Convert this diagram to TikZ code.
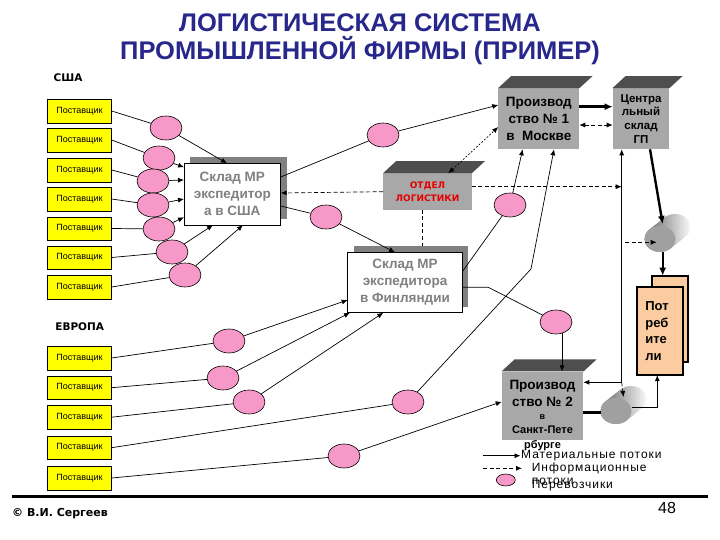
\documentclass[tikz,border=0pt]{standalone}
\usepackage{fontspec}
\setmainfont{Liberation Sans}
\newfontfamily\dvfont{DejaVu Sans}
\usetikzlibrary{arrows.meta,shapes.geometric,calc,shadows}
\definecolor{titleblue}{RGB}{40,40,140}
\definecolor{supyellow}{RGB}{255,255,0}
\definecolor{carpink}{RGB}{246,152,200}
\definecolor{boxgray}{RGB}{168,168,168}
\definecolor{topgray}{RGB}{78,78,78}
\definecolor{shadowgray}{RGB}{128,128,128}
\definecolor{textgray}{RGB}{128,128,128}
\definecolor{logred}{RGB}{230,0,0}
\definecolor{constan}{RGB}{250,204,160}
\definecolor{cylfront}{RGB}{160,160,160}
\definecolor{cyldark}{RGB}{95,95,95}
\begin{document}
\begin{tikzpicture}[x=1pt,y=-1pt,
  sup/.style={draw=black, fill=supyellow, minimum width=64pt, minimum height=23.5pt, inner sep=0pt, font=\fontsize{9}{10}\selectfont},
  car/.style={ellipse, draw=black, line width=0.6pt, fill=carpink, minimum width=32pt, minimum height=24pt, inner sep=0pt},
  ln/.style={line width=0.7pt},
  arr/.style={line width=0.7pt, -{Latex[length=6pt,width=5pt]}},
  arrboth/.style={line width=0.7pt, {Latex[length=6pt,width=5pt]}-{Latex[length=6pt,width=5pt]}},
  thk/.style={line width=2.4pt, -{Latex[length=8pt,width=7pt]}},
  dsh/.style={dash pattern=on 4pt off 2.5pt},
  dotl/.style={dash pattern=on 1.8pt off 1.8pt},
  wbox/.style={draw=black, line width=0.7pt, fill=white, text=textgray, inner sep=0pt, align=center,
    font=\fontsize{13.5}{17}\selectfont\bfseries,
    drop shadow={shadow xshift=6pt, shadow yshift=6pt, opacity=1, fill=shadowgray}},
  gbox/.style={fill=boxgray, inner sep=0pt, align=center},
  lbl/.style={inner sep=0pt},
  lgtext/.style={inner sep=0pt, anchor=west, font=\fontsize{12}{13}\selectfont\addfontfeature{LetterSpace=8}},
  cons/.style={draw=black, line width=2.2pt, fill=constan, inner sep=0pt}
]
\useasboundingbox (0,0) rectangle (720,540);
\fill[white] (0,0) rectangle (720,540);

% title
\node[lbl, text=titleblue, align=center, font=\fontsize{25.5}{28}\selectfont\bfseries] (title) at (360,39) {ЛОГИСТИЧЕСКАЯ СИСТЕМА\\ПРОМЫШЛЕННОЙ ФИРМЫ (ПРИМЕР)};

% region labels
\node[lbl, font=\dvfont\bfseries\fontsize{10.5}{12}\selectfont] (usa) at (68,78) {США};
\node[lbl, font=\dvfont\bfseries\fontsize{10.5}{12}\selectfont] (eur) at (79.7,326.7) {ЕВРОПА};

% suppliers
\foreach \i/\yy in {1/111,2/140,3/170,4/199,5/228.5,6/257.5,7/287}
  \node[sup] (s\i) at (79.5,\yy) {Поставщик};
\foreach \i/\yy in {1/358,2/387.7,3/417.2,4/447.7,5/478}
  \node[sup] (t\i) at (79.5,\yy) {Поставщик};

% warehouses
\node[wbox, minimum width=96.7pt, minimum height=61.7pt] (usbox) at (232.3,194.2) {Склад МР\\экспедитор\\а в США};
\node[wbox, minimum width=114.6pt, minimum height=60.4pt] (fibox) at (405,282.5) {Склад МР\\экспедитора\\в Финляндии};

% 3D boxes
\node[gbox, minimum width=88.4pt, minimum height=36.7pt, text=logred, font=\dvfont\bfseries\fontsize{9}{12.4}\selectfont] (ot) at (427.5,191.7) {ОТДЕЛ\\ЛОГИСТИКИ};
\fill[topgray] (ot.north west) -- ++(13,-12) -- ([shift={(13,-12)}]ot.north east) -- (ot.north east) -- cycle;
\node[gbox, minimum width=81pt, minimum height=61pt, font=\fontsize{13.5}{16.7}\selectfont\bfseries] (p1) at (538.8,118.8) {Производ\\ство № 1\\в\ \ Москве};
\fill[topgray] (p1.north west) -- ++(13,-12) -- ([shift={(13,-12)}]p1.north east) -- (p1.north east) -- cycle;
\node[gbox, minimum width=56.6pt, minimum height=61pt, font=\fontsize{11.5}{13.8}\selectfont\bfseries] (cg) at (641,118.8) {Центра\\льный\\склад\\ГП};
\fill[topgray] (cg.north west) -- ++(13,-12) -- ([shift={(13,-12)}]cg.north east) -- (cg.north east) -- cycle;
\node[gbox, minimum width=81.6pt, minimum height=68.3pt] (p2) at (542.5,405.8) {};
\fill[topgray] (p2.north west) -- ++(13,-12) -- ([shift={(13,-12)}]p2.north east) -- (p2.north east) -- cycle;
\node[lbl, align=center, font=\fontsize{13.5}{16.7}\selectfont\bfseries] (p2a) at (542.5,393.3) {Производ\\ство № 2};
\node[lbl, font=\fontsize{9}{10}\selectfont\bfseries] (p2b) at (542.5,417.3) {в};
\node[lbl, font=\fontsize{11}{12}\selectfont\bfseries] (p2c) at (542.5,430) {Санкт-Пете};
\node[lbl, font=\fontsize{11}{12}\selectfont\bfseries] (p2d) at (542.5,445.5) {рбурге};

% consumers
\node[cons, minimum width=36.6pt, minimum height=86pt] (cons2) at (670,318.7) {};
\node[cons, minimum width=46pt, minimum height=87.7pt, text width=30pt, align=left, font=\fontsize{13}{16.7}\selectfont\bfseries] (cons1) at (660.3,331.2) {Пот\\реб\\ите\\ли};

% cylinders
\coordinate (c1f) at (660,239);
\coordinate (c1b) at (675,227);
\coordinate (c2f) at (616,411);
\coordinate (c2b) at (631,399);
\foreach \f/\b in {c1f/c1b,c2f/c2b}{
  \shade[left color=cyldark, right color=white]
    ([shift={(46:15.5 and 13)}]\f) -- ([shift={(46:15.5 and 13)}]\b)
    arc[start angle=46, end angle=-134, x radius=15.5, y radius=13]
    -- ([shift={(-134:15.5 and 13)}]\f)
    arc[start angle=-134, end angle=-314, x radius=15.5, y radius=13] -- cycle;
  \fill[cylfront] (\f) ellipse [x radius=15.5, y radius=13];
}

% carriers (USA)
\node[car] (e1) at (166,128) {};
\node[car] (e2) at (159,158) {};
\node[car] (e3) at (153,181) {};
\node[car] (e4) at (153,205) {};
\node[car] (e5) at (159,229) {};
\node[car] (e6) at (172,252) {};
\node[car] (e7) at (185,275) {};
% other carriers
\node[car] (ea) at (383,135) {};
\node[car] (eb) at (326,217) {};
\node[car] (ec) at (510,205) {};
\node[car] (ep2) at (556,322) {};
\node[car] (ed) at (408,402) {};
\node[car] (eu1) at (229,341) {};
\node[car] (eu2) at (223,378) {};
\node[car] (eu3) at (249,402) {};
\node[car] (eu5) at (344,456) {};

% coordinates on borders
\coordinate (usT) at (227,163.3);
\coordinate (usL1) at (184,167.3);
\coordinate (usL2) at (184,180);
\coordinate (usL3) at (184,199);
\coordinate (usL4) at (184,217.3);
\coordinate (usB1) at (213,225.1);
\coordinate (usB2) at (243,225.1);
\coordinate (usR1) at (280.7,177);
\coordinate (usR2) at (280.7,193);
\coordinate (usR3) at (280.7,206);
\coordinate (p1L1) at (498.3,105);
\coordinate (p1L2) at (498.3,127);
\coordinate (otT) at (448.3,173.3);
\coordinate (otB) at (422.7,210);
\coordinate (otR) at (471.7,186.7);
\coordinate (fiShT) at (422.7,246.3);
\coordinate (fiT) at (395,252.3);
\coordinate (fiL) at (347.7,300);
\coordinate (fiB1) at (350,312.7);
\coordinate (fiB2) at (383.3,312.7);
\coordinate (fiR1) at (462.3,271.7);
\coordinate (fiR2) at (462.3,287.3);
\coordinate (kinkA) at (488.3,287.3);
\coordinate (kinkB) at (531,269);
\coordinate (p1B1) at (522.7,149.3);
\coordinate (p1B2) at (554,149.3);
\coordinate (p2L) at (501.7,401.7);
\coordinate (p2R1) at (583.3,382.3);
\coordinate (p2R2) at (583.3,412.3);
\coordinate (p1R1) at (579.3,106.7);
\coordinate (cgL1) at (612.7,106.7);
\coordinate (p1R2) at (579.3,125);
\coordinate (cgL2) at (612.7,125);
\coordinate (cgB) at (650,149.3);
\coordinate (cy1T) at (662.7,224);
\coordinate (cy1B) at (662.7,252);
\coordinate (cs2T) at (662.7,275.7);
\coordinate (vTop) at (621.7,149.3);
\coordinate (vMid) at (621.7,186.7);
\coordinate (vBot) at (621.7,382.3);
\coordinate (cy2T) at (623.5,397);
\coordinate (cy1W) at (625,242.3);
\coordinate (cy1E) at (656.7,242.3);
\coordinate (cy2L) at (600.5,412.3);
\coordinate (cy2R) at (631.7,407.7);
\coordinate (cyc) at (657.3,407.7);
\coordinate (csB) at (657.3,375.1);

% USA connectors
\draw[ln] (s1.east) -- (e1);  \draw[arr] (e1) -- (usT);
\draw[ln] (s2.east) -- (e2);  \draw[arr] (e2) -- (usL1);
\draw[ln] (s3.east) -- (e3);  \draw[arr] (e3) -- (usL2);
\draw[ln] (s4.east) -- (e4);  \draw[arr] (e4) -- (usL3);
\draw[ln] (s5.east) -- (e5);  \draw[arr] (e5) -- (usL4);
\draw[ln] (s6.east) -- (e6);  \draw[arr] (e6) -- (usB1);
\draw[ln] (s7.east) -- (e7);  \draw[arr] (e7) -- (usB2);

\draw[ln] (usR1) -- (ea); \draw[arr] (ea) -- (p1L1);
\draw[arr, dsh] (ot.west) -- (usR2);
\draw[ln] (usR3) -- (eb); \draw[arr] (eb) -- (fiT);
\draw[ln, dsh] (otB) -- (fiShT);
\draw[arrboth, dotl] (otT) -- (p1L2);
\draw[arr, dsh] (otR) -- (vMid);

% Europe connectors
\draw[ln] (t1.east) -- (eu1); \draw[arr] (eu1) -- (fiL);
\draw[ln] (t2.east) -- (eu2); \draw[arr] (eu2) -- (fiB1);
\draw[ln] (t3.east) -- (eu3); \draw[arr] (eu3) -- (fiB2);
\draw[ln] (t4.east) -- (ed);  \draw[arr] (ed) -- (kinkB) -- (p1B2);
\draw[ln] (t5.east) -- (eu5); \draw[arr] (eu5) -- (p2L);
\draw[ln] (fiR1) -- (ec); \draw[arr] (ec) -- (p1B1);
\draw[ln] (fiR2) -- (kinkA) -- (ep2);
\draw[arr] (ep2.-62) -- (ep2.-62 |- p2.north);

% production / distribution
\draw[thk] (p1R1) -- (cgL1);
\draw[arrboth, dsh] (p1R2) -- (cgL2);
\draw[thk] (cgB) -- (cy1T);
\draw[thk] (cy1B) -- (cs2T);
\draw[arr] (vBot) -- (vTop);
\draw[arr] (vBot) -- (p2R1);
\draw[arr, dsh] (vBot) -- (cy2T);
\draw[arr, dsh] (cy1W) -- (cy1E);
\draw[line width=2.4pt] (p2R2) -- (cy2L);
\draw[arr] (cy2R) -- (cyc) -- (csB);

% legend
\coordinate (lg1a) at (483.3,455.7);
\coordinate (lg1b) at (520.5,455.7);
\coordinate (lg2a) at (483.3,468.3);
\coordinate (lg2b) at (522,468.3);
\draw[arr] (lg1a) -- (lg1b);
\draw[arr, dsh] (lg2a) -- (lg2b);
\node[car, minimum width=19pt, minimum height=12pt] (lg3) at (505.8,480) {};
\node[lgtext] (lg1t) at (521,455.7) {Материальные потоки};
\node[lgtext] (lg2t) at (531.7,468.3) {Информационные};
\node[lgtext] (lg2u) at (531.7,481.5) {потоки};
\node[lgtext] (lg3t) at (531.7,485.5) {Перевозчики};

% footer
\coordinate (ruleL) at (12,496.3);
\coordinate (ruleR) at (708,496.3);
\draw[line width=3pt] (ruleL) -- (ruleR);
\node[lbl, font=\dvfont\bfseries\fontsize{11}{12}\selectfont] (author) at (60,513.3) {© В.И. Сергеев};
\node[lbl, font=\fontsize{16}{18}\selectfont] (page) at (667,508) {48};
\end{tikzpicture}
\end{document}
